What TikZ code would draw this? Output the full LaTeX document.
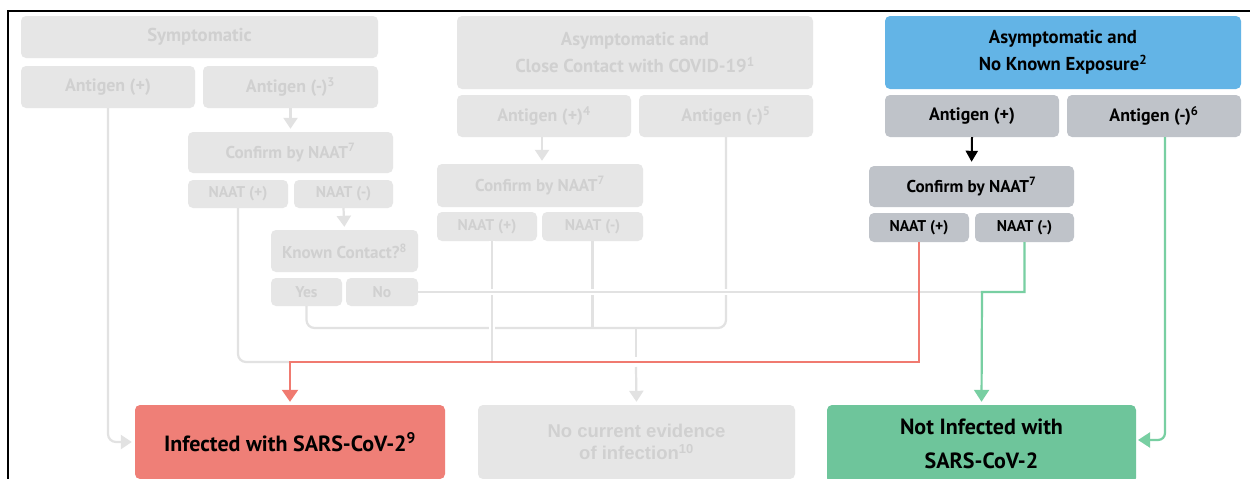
\documentclass[tikz,border=0pt]{standalone}
\usepackage{fontspec}
\setmainfont{PT Sans}
\newfontfamily\condf{PT Sans}
\newfontfamily\widef{Liberation Sans}
\usetikzlibrary{arrows.meta,calc}
\definecolor{fadefill}{HTML}{E6E6E6}
\definecolor{fadetext}{HTML}{D0D0D0}
\definecolor{fadeline}{HTML}{E2E2E2}
\definecolor{actfill}{HTML}{BFC3C9}
\definecolor{bluefill}{HTML}{63B4E6}
\definecolor{redfill}{HTML}{EF7F77}
\definecolor{greenfill}{HTML}{6EC59B}
\definecolor{redline}{HTML}{F07A70}
\definecolor{greenline}{HTML}{78CFA2}
\begin{document}
\begin{tikzpicture}[x=1pt,y=-1pt,
  fbox/.style={rectangle, rounded corners=5, fill=fadefill, text=fadetext, inner sep=0pt, align=center, font=\condf\bfseries\fontsize{17.9}{24}\selectfont},
  abox/.style={fbox, fill=actfill, text=black},
  sz/.style 2 args={minimum width=#1, minimum height=#2},
  hd/.style={font=\condf\bfseries\fontsize{18.7}{27}\selectfont},
  sm/.style={font=\condf\bfseries\fontsize{15.6}{18}\selectfont},
  cf/.style={font=\condf\bfseries\fontsize{17.1}{20}\selectfont},
  kcf/.style={font=\condf\bfseries\fontsize{17.1}{20}\selectfont},
  bg/.style={font=\condf\bfseries\fontsize{22}{34}\selectfont},
  fline/.style={draw=fadeline, line width=2.2},
  redl/.style={draw=redline, line width=2.2},
  greenl/.style={draw=greenline, line width=2.2},
  halo/.style={preaction={draw=white, line width=6}},
  gtip/.style={-{Triangle[width=14,length=11]}, shorten >=3},
]
\useasboundingbox (0,0) rectangle (1250,479);
\clip (0,0) rectangle (1250,479);
\fill[white] (0,0) rectangle (1250,479);
\draw[black, line width=2.4] (8,490) -- (8,11) -- (1252,11);

% faded left column
\node[fbox, hd, sz={357}{42}] (sym) at (199.5,37) {Symptomatic};
\node[fbox, sz={174}{42}] (agpL) at (108,87) {Antigen (+)};
\node[fbox, sz={175}{42}] (agmL) at (290.5,87) {Antigen (-)\textsuperscript{3}};
\node[fbox, cf, sz={205}{41}] (cnL) at (290.5,152.5) {Confirm by NAAT\textsuperscript{7}};
\node[fbox, sm, sz={100}{28}] (npL) at (238,194) {NAAT (+)};
\node[fbox, sm, sz={99}{28}] (nmL) at (343.5,194) {NAAT (-)};
\node[fbox, kcf, sz={147}{42}] (kc) at (344.5,251) {Known Contact?\textsuperscript{8}};
\node[fbox, sm, sz={71}{28}] (yes) at (306.5,292) {Yes};
\node[fbox, sm, sz={72}{28}] (no) at (382,292) {No};

% faded middle column
\node[fbox, hd, sz={356}{73}] (acc) at (635,52.5) {Asymptomatic and\\Close Contact with COVID-19\textsuperscript{1}};
\node[fbox, sz={174}{42}] (agpM) at (544,116) {Antigen (+)\textsuperscript{4}};
\node[fbox, sz={174}{42}] (agmM) at (726,116) {Antigen (-)\textsuperscript{5}};
\node[fbox, cf, sz={206}{43}] (cnM) at (540,185.5) {Confirm by NAAT\textsuperscript{7}};
\node[fbox, sm, sz={100}{29}] (npM) at (487,226.5) {NAAT (+)};
\node[fbox, sm, sz={101}{29}] (nmM) at (592.5,226.5) {NAAT (-)};

% active right column
\node[abox, hd, fill=bluefill, sz={356}{73}] (blue) at (1063,52.5) {Asymptomatic and\\No Known Exposure\textsuperscript{2}};
\node[abox, sz={174}{42}] (agpR) at (972,116) {Antigen (+)};
\node[abox, sz={174}{42}] (agmR) at (1154,116) {Antigen (-)\textsuperscript{6}};
\node[abox, cf, sz={205}{41}] (cnR) at (971.5,186.5) {Confirm by NAAT\textsuperscript{7}};
\node[abox, sm, sz={100}{29}] (npR) at (919,227.5) {NAAT (+)};
\node[abox, sm, sz={99}{29}] (nmR) at (1024.5,227.5) {NAAT (-)};

% outcomes
\node[abox, bg, fill=redfill, sz={310}{74}] (inf) at (290,442) {Infected with SARS-CoV-2\textsuperscript{9}};
\node[fbox, sz={317}{74}, font=\widef\bfseries\fontsize{18.5}{22}\selectfont] (nce) at (636.5,442) {No current evidence\\of infection\textsuperscript{10}};
\node[abox, bg, fill=greenfill, sz={309}{78}] (ni) at (981.5,444) {Not Infected with\\SARS-CoV-2};

% junction coordinates
\coordinate (c725) at (726,328);
\coordinate (j636) at (636,328);
\coordinate (rj) at (290,362);
\coordinate (m492) at (492,241);
\coordinate (g1) at (982,292);
\coordinate (g6) at (1165,137);
\coordinate (nie) at (1136,440);

% faded arrows between boxes
\draw[fline, gtip] (agmL.south) -- (cnL.north);
\draw[fline, gtip] (nmL.south) -- (kc.north);
\draw[fline, gtip] (agpM.south -| 542,0) -- (cnM.north -| 542,0);

% faded connectors
\draw[fline, rounded corners=8] (yes.south) |- (c725) -- (agmM.south);
\draw[fline] (nmM.south) -- (nmM.south |- c725);
\draw[fline] (j636) -- ($(j636)+(0,29)$);
\draw[fline, gtip] ($(j636)+(0,39)$) -- (nce.north);
\draw[fline, halo] (m492) -- (m492 |- rj);
\draw[fline, halo] (no.east) -- (g1);
\draw[fline, rounded corners=8] (npL.south) |- ($(rj)+(-1,0)$);
\draw[fline, rounded corners=8, gtip] (agpL.south) |- (inf.west);

% active connectors
\draw[black, line width=2, -{Triangle[width=12,length=11]}, shorten >=4] (agpR.south) -- (cnR.north);
\draw[redl, -{Triangle[width=16,length=12]}, shorten >=3] (npR.south) |- (rj) -- (inf.north);
\draw[greenl, -{Triangle[width=15,length=12]}, shorten >=3] (nmR.south) |- (g1) -- (ni.north);
\draw[greenl, rounded corners=7, -{Triangle[width=15,length=12]}, shorten >=2] (g6) |- (nie);
\end{tikzpicture}
\end{document}
